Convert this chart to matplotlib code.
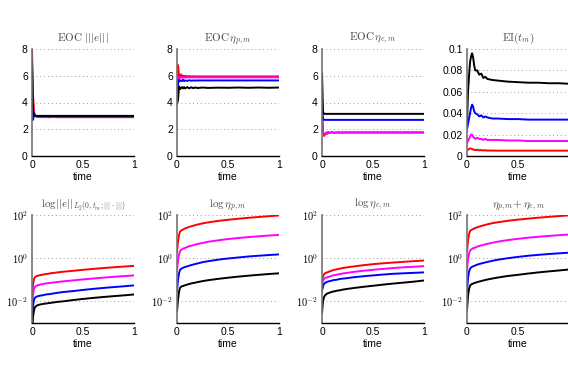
import matplotlib
matplotlib.use('Agg')
import matplotlib.pyplot as plt

plt.rcParams['font.family'] = ['Liberation Sans', 'DejaVu Sans']
plt.rcParams['mathtext.fontset'] = 'cm'

# time grid shared by all series
t = [0, .01, .02, .03, .04, .05, .06, .07, .08, .1, .12, .14, .16, .18, .2,
     .25, .3, .4, .5, .6, .7, .8, .9, 1]

colors = ['red', 'magenta', 'blue', 'black']

# EOC |||e|||
eoc_e_red = [8.0, 4.5, 3.3, 3.05, 3.0, 2.95, 2.92, 2.95, 2.9, 2.92, 2.9, 2.92,
             2.9, 2.9, 2.92, 2.9, 2.9, 2.9, 2.9, 2.9, 2.9, 2.9, 2.9, 2.9]
eoc_e_mag = [6.5, 3.8, 3.1, 3.0, 2.95, 2.95, 2.94, 2.95, 2.94, 2.95, 2.94, 2.95,
             2.95, 2.95, 2.95, 2.95, 2.95, 2.95, 2.95, 2.95, 2.95, 2.95, 2.95, 2.95]
eoc_e_blu = [3.2, 2.7, 3.1, 3.0, 2.98, 2.98, 2.97, 2.98, 2.98, 2.98, 2.98, 2.98,
             2.98, 2.98, 2.98, 2.98, 2.98, 2.98, 2.98, 2.98, 2.98, 2.98, 2.98, 2.98]
eoc_e_blk = [7.0, 3.4, 3.1, 3.02, 3.0, 3.0, 3.0, 3.0, 3.0, 3.0, 3.0, 3.0,
             3.0, 3.0, 3.0, 3.0, 3.0, 3.0, 3.0, 3.0, 3.0, 3.0, 3.0, 3.0]

# EOC eta_p
eoc_p_red = [5.8, 6.8, 6.0, 5.9, 6.1, 5.95, 6.0, 5.95, 6.0, 5.95, 5.97, 5.95,
             5.96, 5.95, 5.95, 5.95, 5.95, 5.95, 5.95, 5.95, 5.95, 5.95, 5.95, 5.95]
eoc_p_mag = [5.0, 5.9, 5.8, 5.85, 5.9, 5.85, 5.88, 5.86, 5.88, 5.87, 5.88, 5.87,
             5.88, 5.88, 5.88, 5.88, 5.88, 5.88, 5.88, 5.88, 5.88, 5.88, 5.88, 5.88]
eoc_p_blu = [4.5, 5.4, 5.7, 5.6, 5.65, 5.6, 5.7, 5.6, 5.65, 5.62, 5.66, 5.63,
             5.65, 5.64, 5.65, 5.65, 5.65, 5.65, 5.65, 5.65, 5.65, 5.65, 5.65, 5.65]
eoc_p_blk = [3.9, 4.2, 5.2, 5.0, 5.1, 5.15, 5.05, 5.15, 5.05, 5.15, 5.06, 5.14,
             5.07, 5.13, 5.08, 5.12, 5.09, 5.11, 5.1, 5.12, 5.1, 5.12, 5.1, 5.12]

# EOC eta_e
eoc_ee_red = [4.0, 1.8, 1.5, 1.6, 1.75, 1.65, 1.8, 1.7, 1.75, 1.78, 1.72, 1.75,
              1.76, 1.74, 1.75, 1.75, 1.75, 1.75, 1.75, 1.75, 1.75, 1.75, 1.75, 1.75]
eoc_ee_mag = [3.0, 1.8, 1.6, 1.65, 1.75, 1.7, 1.78, 1.72, 1.75, 1.78, 1.74, 1.77,
              1.77, 1.76, 1.77, 1.77, 1.77, 1.77, 1.77, 1.77, 1.77, 1.77, 1.77, 1.77]
eoc_ee_blu = [3.3, 2.8, 2.7, 2.7, 2.7, 2.7, 2.7, 2.7, 2.7, 2.7, 2.7, 2.7,
              2.7, 2.7, 2.7, 2.7, 2.7, 2.7, 2.7, 2.7, 2.7, 2.7, 2.7, 2.7]
eoc_ee_blk = [6.2, 3.3, 3.15, 3.15, 3.15, 3.15, 3.15, 3.15, 3.15, 3.15, 3.15, 3.15,
              3.15, 3.15, 3.15, 3.15, 3.15, 3.15, 3.15, 3.15, 3.15, 3.15, 3.15, 3.15]

# EI(t_m)
ei_red = [0.005, 0.006, 0.0065, 0.007, 0.007, 0.0065, 0.006, 0.006, 0.0055, 0.0058,
          0.0053, 0.0055, 0.0052, 0.0053, 0.0051, 0.0051, 0.005, 0.005, 0.005, 0.005,
          0.005, 0.005, 0.005, 0.005]
ei_mag = [0.012, 0.014, 0.016, 0.018, 0.02, 0.02, 0.018, 0.017, 0.016, 0.017,
          0.016, 0.016, 0.015, 0.016, 0.015, 0.015, 0.015, 0.0145, 0.0145, 0.014,
          0.014, 0.014, 0.014, 0.014]
ei_blu = [0.025, 0.03, 0.035, 0.04, 0.045, 0.048, 0.046, 0.042, 0.04, 0.039,
          0.037, 0.038, 0.036, 0.037, 0.036, 0.035, 0.035, 0.0345, 0.0345, 0.034,
          0.034, 0.034, 0.034, 0.034]
ei_blk = [0.03, 0.06, 0.075, 0.088, 0.093, 0.096, 0.092, 0.085, 0.08, 0.08,
          0.076, 0.077, 0.073, 0.074, 0.072, 0.071, 0.0705, 0.0695, 0.069, 0.0685,
          0.0685, 0.068, 0.068, 0.0675]

# log ||e||_{L2(0,t_m;|||.|||)}
le_red = [0.015, 0.06, 0.11, 0.135, 0.145, 0.15, 0.155, 0.16, 0.165, 0.17, 0.18, 0.185,
          0.19, 0.2, 0.205, 0.22, 0.235, 0.26, 0.29, 0.32, 0.35, 0.38, 0.41, 0.44]
le_mag = [0.004, 0.02, 0.04, 0.048, 0.052, 0.055, 0.057, 0.058, 0.06, 0.063, 0.066,
          0.068, 0.07, 0.072, 0.074, 0.079, 0.084, 0.094, 0.104, 0.115, 0.126, 0.137,
          0.148, 0.16]
le_blu = [0.001, 0.006, 0.012, 0.015, 0.016, 0.017, 0.0175, 0.018, 0.0185, 0.019, 0.02,
          0.021, 0.0215, 0.022, 0.023, 0.025, 0.027, 0.03, 0.034, 0.038, 0.042, 0.046,
          0.05, 0.055]
le_blk = [0.0003, 0.002, 0.004, 0.0055, 0.006, 0.0065, 0.0068, 0.007, 0.0072, 0.0075,
          0.0078, 0.008, 0.0083, 0.0085, 0.0088, 0.0095, 0.01, 0.0115, 0.013, 0.0145,
          0.016, 0.0175, 0.019, 0.021]

# log eta_p
lp_red = [1.9, 6, 12, 17, 19, 20, 21.5, 22.5, 24, 26, 28, 30, 32, 34, 36, 41, 45, 53,
          60, 67, 74, 81, 88, 95]
lp_mag = [0.27, 0.8, 1.5, 2.1, 2.4, 2.6, 2.8, 2.9, 3.0, 3.3, 3.6, 3.8, 4.0, 4.3, 4.5,
          5.1, 5.7, 6.7, 7.7, 8.6, 9.5, 10.3, 11.2, 12]
lp_blu = [0.03, 0.1, 0.2, 0.29, 0.32, 0.34, 0.36, 0.38, 0.39, 0.42, 0.45, 0.48, 0.51,
          0.54, 0.57, 0.65, 0.72, 0.85, 0.97, 1.08, 1.2, 1.3, 1.4, 1.5]
lp_blk = [0.0035, 0.012, 0.028, 0.043, 0.048, 0.05, 0.052, 0.054, 0.056, 0.06, 0.064,
          0.068, 0.071, 0.074, 0.078, 0.087, 0.095, 0.11, 0.125, 0.14, 0.155, 0.17,
          0.185, 0.2]

# log eta_e
lee_red = [0.09, 0.14, 0.18, 0.2, 0.21, 0.22, 0.23, 0.24, 0.25, 0.27, 0.29, 0.3, 0.32,
           0.33, 0.35, 0.38, 0.41, 0.47, 0.53, 0.58, 0.63, 0.68, 0.73, 0.78]
lee_mag = [0.065, 0.09, 0.11, 0.12, 0.125, 0.13, 0.135, 0.14, 0.145, 0.155, 0.165, 0.17,
           0.18, 0.185, 0.195, 0.21, 0.23, 0.26, 0.29, 0.32, 0.35, 0.38, 0.4, 0.43]
lee_blu = [0.03, 0.05, 0.065, 0.072, 0.076, 0.08, 0.083, 0.086, 0.088, 0.093, 0.098,
           0.1, 0.105, 0.11, 0.113, 0.12, 0.13, 0.145, 0.16, 0.175, 0.19, 0.2, 0.21, 0.22]
lee_blk = [0.003, 0.01, 0.016, 0.019, 0.021, 0.023, 0.024, 0.025, 0.026, 0.028, 0.029,
           0.031, 0.032, 0.033, 0.035, 0.038, 0.041, 0.047, 0.053, 0.06, 0.067, 0.074,
           0.082, 0.093]

# eta_p + eta_e
ls_red = [2.1, 6.5, 13, 18, 20, 21, 22.5, 23.5, 25, 27, 29, 31, 33, 35, 37, 42, 46, 54,
          61, 68, 75, 82, 89, 96]
ls_mag = [0.3, 0.9, 1.6, 2.2, 2.5, 2.7, 2.9, 3.0, 3.1, 3.4, 3.7, 3.9, 4.1, 4.4, 4.6,
          5.2, 5.8, 6.9, 7.9, 8.9, 9.8, 10.7, 11.6, 12.5]
ls_blu = [0.03, 0.12, 0.24, 0.33, 0.37, 0.4, 0.42, 0.44, 0.46, 0.5, 0.54, 0.57, 0.6,
          0.64, 0.67, 0.76, 0.85, 1.0, 1.15, 1.3, 1.43, 1.56, 1.68, 1.8]
ls_blk = [0.004, 0.018, 0.038, 0.054, 0.06, 0.064, 0.067, 0.07, 0.073, 0.078, 0.083,
          0.088, 0.093, 0.098, 0.103, 0.115, 0.127, 0.15, 0.17, 0.195, 0.22, 0.245,
          0.27, 0.3]

panels = [
    (r'$\mathrm{EOC}\ |||e|||$', [eoc_e_red, eoc_e_mag, eoc_e_blu, eoc_e_blk], 'eoc'),
    (r'$\mathrm{EOC}\,\eta_{p,m}$', [eoc_p_red, eoc_p_mag, eoc_p_blu, eoc_p_blk], 'eoc'),
    (r'$\mathrm{EOC}\,\eta_{e,m}$', [eoc_ee_red, eoc_ee_mag, eoc_ee_blu, eoc_ee_blk], 'eoc'),
    (r'$\mathrm{EI}(t_m)$', [ei_red, ei_mag, ei_blu, ei_blk], 'ei'),
    (r'$\log||e||_{L_2(0,t_m;|||\cdot|||)}$', [le_red, le_mag, le_blu, le_blk], 'log'),
    (r'$\log\eta_{p,m}$', [lp_red, lp_mag, lp_blu, lp_blk], 'log'),
    (r'$\log\eta_{e,m}$', [lee_red, lee_mag, lee_blu, lee_blk], 'log'),
    (r'$\eta_{p,m}\!+\eta_{e,m}$', [ls_red, ls_mag, ls_blu, ls_blk], 'log'),
]

W, H = 568, 366
fig = plt.figure(figsize=(W / 100, H / 100), dpi=100)
lefts = [32, 177, 322, 467]
rows = [(49, 156), (215, 323)]
axw = 102

for i, (title, series, kind) in enumerate(panels):
    r, c = divmod(i, 4)
    top, bot = rows[r]
    ax = fig.add_axes([lefts[c] / W, 1 - bot / H, axw / W, (bot - top) / H])
    for ys, col in zip(series, colors):
        ax.plot(t, ys, color=col, lw=1.4)
    ax.set_xlim(0, 1)
    ax.set_xticks([0, 0.5, 1])
    # the last column runs off the right edge, so its "1" is not shown
    ax.set_xticklabels(['0', '0.5', '' if c == 3 else '1'])
    if kind == 'eoc':
        ax.set_ylim(0, 8)
        ax.set_yticks([0, 2, 4, 6, 8])
    elif kind == 'ei':
        ax.set_ylim(0, 0.1)
        ax.set_yticks([0, 0.02, 0.04, 0.06, 0.08, 0.1])
        ax.set_yticklabels(['0', '0.02', '0.04', '0.06', '0.08', '0.1'])
    else:
        ax.set_yscale('log')
        ax.set_ylim(1e-3, 1e2)
        ax.set_yticks([1e-2, 1e0, 1e2])
        ax.set_yticklabels([r'$10^{-2}$', r'$10^{0}$', r'$10^{2}$'])
        ax.minorticks_off()
    ax.yaxis.grid(True, linestyle=(0, (1, 3)), color='0.6', lw=0.7)
    ax.spines['top'].set_visible(False)
    ax.spines['right'].set_visible(False)
    ax.spines['left'].set_color('0.45')
    ax.spines['left'].set_linewidth(1.2)
    ax.spines['bottom'].set_linewidth(1.0)
    ax.tick_params(labelsize=7.5, length=0, pad=3)
    ax.set_xlabel('time', fontsize=7.5, labelpad=1)
    ax.set_title(title, fontsize=8, color='0.3', pad=6)

fig.savefig('out.png', dpi=100)
